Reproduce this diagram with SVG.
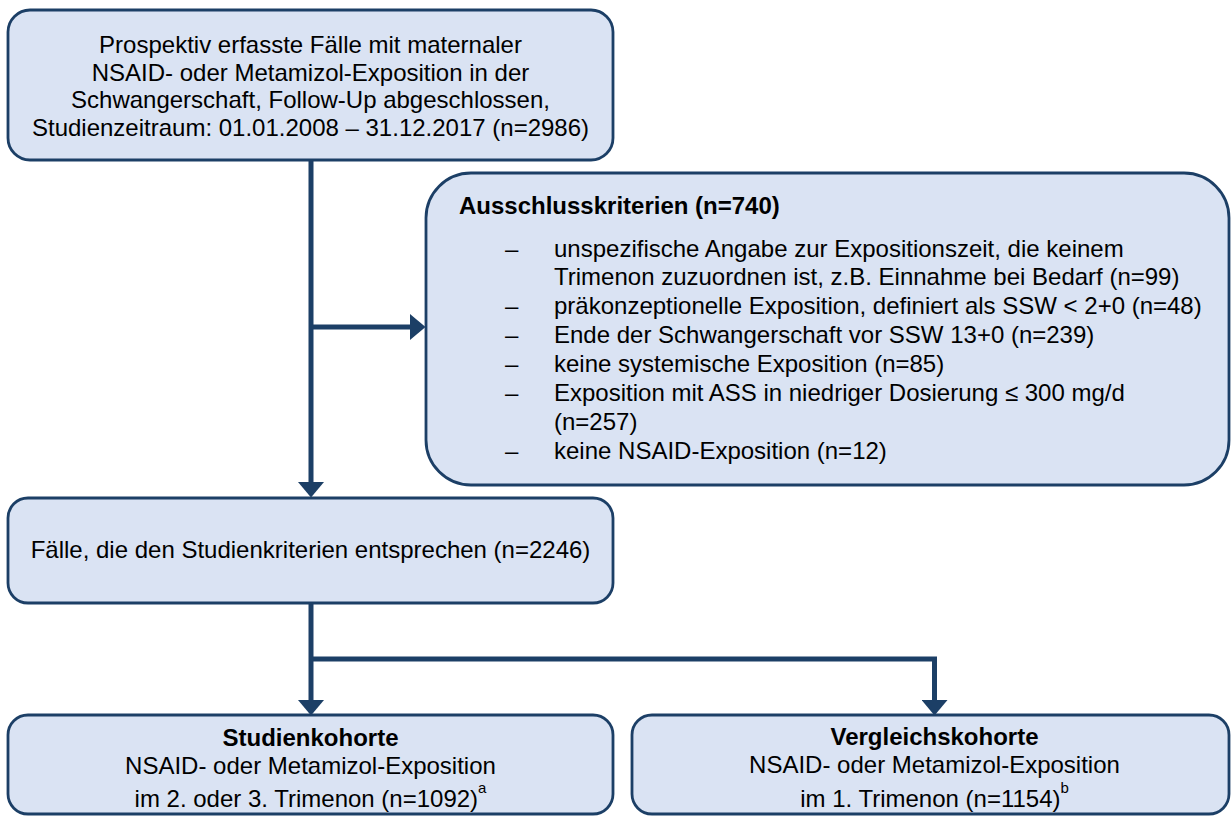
<svg xmlns="http://www.w3.org/2000/svg" width="1232" height="816" viewBox="0 0 1232 816">
<style>
.box{fill:#dae3f3;stroke:#1c3f66;stroke-width:2.8}
.t{font-family:"Liberation Sans",Arial,sans-serif;font-size:24px;fill:#000}
.c{text-anchor:middle}
.b{font-weight:bold}
.sup{font-size:15px}
.con{stroke:#1c3f66;stroke-width:5;fill:none}
</style>
<defs>
<marker id="ah" markerUnits="userSpaceOnUse" markerWidth="16" markerHeight="26" refX="0" refY="13" orient="auto" viewBox="0 0 16 26">
<path d="M0,0 L15.5,13 L0,26 z" fill="#1c3f66"/>
</marker>
</defs>
<rect width="1232" height="816" fill="#fff"/>
<g id="connectors">
<path class="con" d="M311,160 V482" marker-end="url(#ah)"/>
<path class="con" d="M311,327 H410" marker-end="url(#ah)"/>
<path class="con" d="M311,603 V700" marker-end="url(#ah)"/>
<path class="con" d="M311,659 H934.5 V700" marker-end="url(#ah)"/>
</g>
<g id="start">
<rect class="box" x="8" y="10" width="605" height="150" rx="22"/>
<text class="t c" x="310.5" y="53">Prospektiv erfasste Fälle mit maternaler</text>
<text class="t c" x="310.5" y="80.5">NSAID- oder Metamizol-Exposition in der</text>
<text class="t c" x="310.5" y="108">Schwangerschaft, Follow-Up abgeschlossen,</text>
<text class="t c" x="310.5" y="135.5">Studienzeitraum: 01.01.2008 – 31.12.2017 (n=2986)</text>
</g>
<g id="exclusion">
<rect class="box" x="426" y="173" width="803" height="312" rx="45"/>
<text class="t b" x="459" y="214">Ausschlusskriterien (n=740)</text>
<text class="t" x="505" y="257">–</text>
<text class="t" x="554" y="257">unspezifische Angabe zur Expositionszeit, die keinem</text>
<text class="t" x="554" y="285">Trimenon zuzuordnen ist, z.B. Einnahme bei Bedarf (n=99)</text>
<text class="t" x="505" y="314">–</text>
<text class="t" x="554" y="314">präkonzeptionelle Exposition, definiert als SSW &lt; 2+0 (n=48)</text>
<text class="t" x="505" y="343">–</text>
<text class="t" x="554" y="343">Ende der Schwangerschaft vor SSW 13+0 (n=239)</text>
<text class="t" x="505" y="372">–</text>
<text class="t" x="554" y="372">keine systemische Exposition (n=85)</text>
<text class="t" x="505" y="401">–</text>
<text class="t" x="554" y="401">Exposition mit ASS in niedriger Dosierung ≤ 300 mg/d</text>
<text class="t" x="554" y="430">(n=257)</text>
<text class="t" x="505" y="459">–</text>
<text class="t" x="554" y="459">keine NSAID-Exposition (n=12)</text>
</g>
<g id="eligible">
<rect class="box" x="8" y="498" width="605" height="105" rx="20"/>
<text class="t c" x="310.5" y="558">Fälle, die den Studienkriterien entsprechen (n=2246)</text>
</g>
<g id="study">
<rect class="box" x="8" y="715" width="605" height="99" rx="20"/>
<text class="t c b" x="310.5" y="746">Studienkohorte</text>
<text class="t c" x="310.5" y="774">NSAID- oder Metamizol-Exposition</text>
<text class="t c" x="310.5" y="807">im 2. oder 3. Trimenon (n=1092)<tspan class="sup" dy="-14">a</tspan></text>
</g>
<g id="comparison">
<rect class="box" x="632" y="715" width="597" height="99" rx="20"/>
<text class="t c b" x="934.5" y="745">Vergleichskohorte</text>
<text class="t c" x="934.5" y="773">NSAID- oder Metamizol-Exposition</text>
<text class="t c" x="934.5" y="807">im 1. Trimenon (n=1154)<tspan class="sup" dy="-14">b</tspan></text>
</g>
</svg>
